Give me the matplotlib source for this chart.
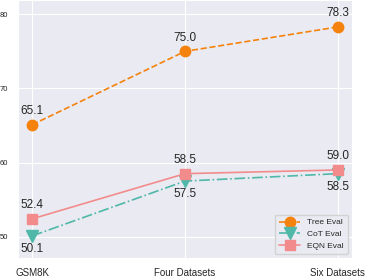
import matplotlib
matplotlib.use("Agg")
import matplotlib.pyplot as plt
import seaborn as sns

categories = ["GSM8K", "Four Datasets", "Six Datasets"]
tree_eval = [65.1, 75.0, 78.3]
cot_eval = [50.1, 57.5, 58.5]
eqn_eval = [52.4, 58.5, 59.0]
yticks = [50, 60, 70, 80]

sns.set_style("darkgrid")
plt.rcParams['font.family'] = ['Arial', 'Liberation Sans', 'DejaVu Sans']

fig = plt.figure(figsize=(3.69, 2.77), dpi=100)
ax = fig.add_axes([18/369, 19/277, 334/369, 258/277])

x = list(range(len(categories)))
c_tree = "#f5820d"
c_cot = "#4fb8a8"
c_eqn = "#f28c8c"

ax.plot(x, tree_eval, linestyle="--", marker="o", color=c_tree, markersize=7.5, linewidth=1.2, label="Tree Eval")
ax.plot(x, cot_eval, linestyle="-.", marker="v", color=c_cot, markersize=8, linewidth=1.2, label="CoT Eval")
ax.plot(x, eqn_eval, linestyle="-", marker="s", color=c_eqn, markersize=7, linewidth=1.2, label="EQN Eval")

for xi, v in zip(x, tree_eval):
    ax.annotate(f"{v:.1f}", (xi, v), xytext=(0, 5.5), textcoords="offset points", ha="center", va="bottom", fontsize=8.5)
for xi, v in zip(x, cot_eval):
    ax.annotate(f"{v:.1f}", (xi, v), xytext=(0, -5), textcoords="offset points", ha="center", va="top", fontsize=8.5)
for xi, v in zip(x, eqn_eval):
    ax.annotate(f"{v:.1f}", (xi, v), xytext=(0, 5.5), textcoords="offset points", ha="center", va="bottom", fontsize=8.5)

ax.set_xlim(-0.092, 2.092)
ax.set_ylim(47.12, 81.93)
ax.set_xticks(x)
ax.set_xticklabels(categories, fontsize=7)
ax.set_yticks(yticks)
ax.set_yticklabels([str(t) for t in yticks], fontsize=5.5)
ax.tick_params(axis='x', pad=4)
ax.tick_params(axis='y', pad=3.5)

ax.legend(loc="lower right", fontsize=6, frameon=True, borderpad=0.5, handlelength=2.6, labelspacing=0.45)

fig.savefig("out.png", dpi=100)
